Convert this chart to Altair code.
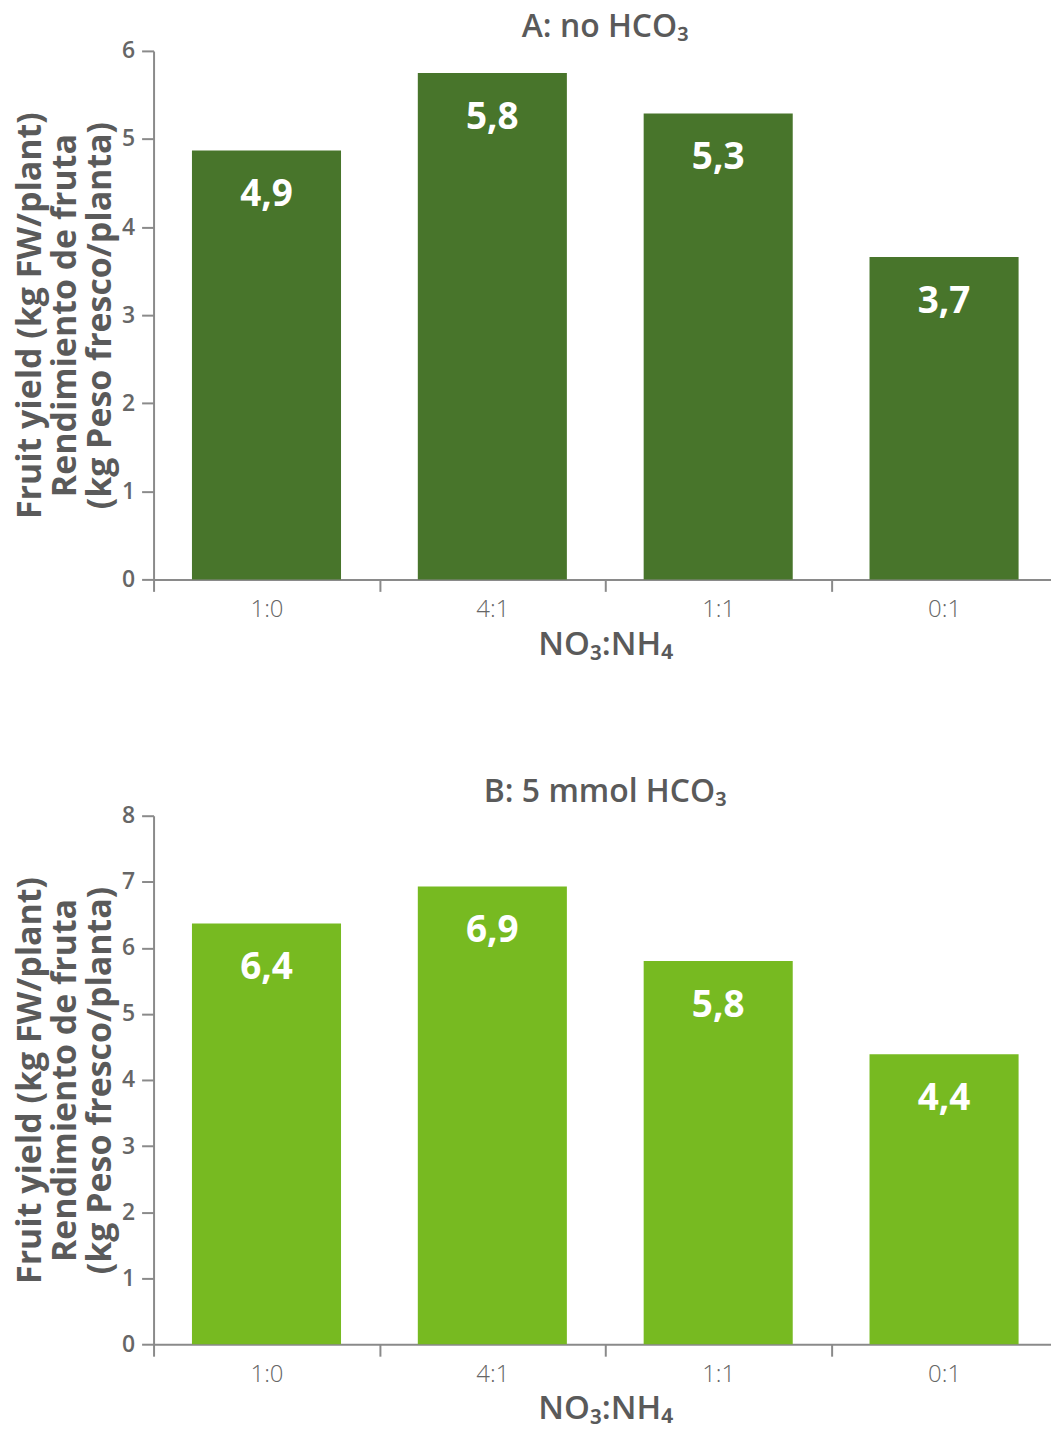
import altair as alt
import pandas as pd

ratios = ["1:0", "4:1", "1:1", "0:1"]
values_a = [4.87, 5.75, 5.29, 3.66]
labels_a = ["4,9", "5,8", "5,3", "3,7"]
values_b = [6.37, 6.93, 5.80, 4.39]
labels_b = ["6,4", "6,9", "5,8", "4,4"]

titles = ["A: no HCO₃", "B: 5 mmol HCO₃"]
colors = ["#48752b", "#77ba21"]
y_max = [6, 8]
y_title = ["Fruit yield (kg FW/plant)", "Rendimiento de fruta", "(kg Peso fresco/planta)"]
x_title = "NO₃:NH₄"

FONT = "Open Sans"
GREY = "#5a5a5a"


def panel(vals, labs, title, color, ymax):
    df = pd.DataFrame({"ratio": ratios, "value": vals, "label": labs})
    x = alt.X("ratio:N", sort=ratios,
              scale=alt.Scale(paddingInner=0, paddingOuter=0),
              axis=alt.Axis(title=x_title, labelAngle=0, tickBand="extent",
                            tickSize=12, tickWidth=2, tickColor="#8a8a8a",
                            domainColor="#8a8a8a", domainWidth=2,
                            labelFont=FONT, labelFontSize=24, labelFontWeight=300,
                            labelColor="#666666", labelPadding=6,
                            titleFont=FONT, titleFontSize=33, titleFontWeight=600,
                            titleColor=GREY, titlePadding=7))
    y = alt.Y("value:Q", scale=alt.Scale(domain=[0, ymax], nice=False),
              axis=alt.Axis(title=y_title, values=list(range(0, ymax + 1)),
                            grid=False, labelAngle=0, labelAlign="right",
                            labelBaseline="middle", labelPadding=7,
                            tickSize=12, tickWidth=2, tickColor="#8a8a8a",
                            domainColor="#8a8a8a", domainWidth=2,
                            labelFont=FONT, labelFontSize=23, labelFontWeight=600,
                            labelColor="#666666",
                            titleFont=FONT, titleFontSize=34, titleFontWeight="bold",
                            titleColor=GREY, titlePadding=4, titleLineHeight=35))
    base = alt.Chart(df)
    bars = base.mark_bar(color=color, width=alt.RelativeBandSize(0.66)).encode(x=x, y=y)
    text = base.mark_text(dy=45, baseline="middle", fontSize=37, fontWeight="bold",
                          font=FONT, color="white").encode(x=x, y=y, text="label:N")
    return alt.layer(bars, text).properties(
        width=906, height=530,
        title=alt.TitleParams(title, font=FONT, fontSize=32, fontWeight=600,
                              color=GREY, anchor="middle", offset=-4))


chart = alt.vconcat(
    panel(values_a, labels_a, titles[0], colors[0], y_max[0]),
    panel(values_b, labels_b, titles[1], colors[1], y_max[1]),
    spacing=115,
).properties(padding={"left": 13, "top": 9, "right": -7, "bottom": 5}
).configure_view(stroke=None)

chart.save("out.html", embed_options={"renderer": "svg", "actions": False})
